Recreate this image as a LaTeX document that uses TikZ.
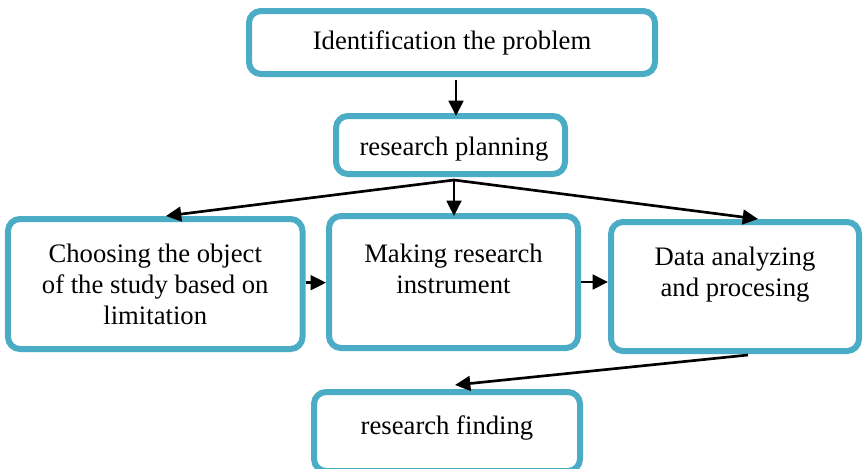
\documentclass[tikz,border=0pt]{standalone}
\usepackage{fontspec}
\setmainfont{Liberation Serif}
\usetikzlibrary{arrows.meta}
\definecolor{boxblue}{HTML}{4BACC6}
\begin{document}
\begin{tikzpicture}[x=0.75pt, y=-0.75pt, every node/.style={font=\fontsize{20}{23.25}\selectfont},
  box/.style={draw=boxblue,line width=4.5pt,rounded corners=9pt,fill=white,align=center,inner sep=0pt},
  flow/.style={-{Triangle[length=11.5pt,width=11pt]},line width=2pt,black}]
\useasboundingbox (0,0) rectangle (866,468);
\node[box,minimum width=304.5pt,minimum height=47.25pt] (ident) at (452,42.5) {Identification the problem};
\node[box,minimum width=171.75pt,minimum height=43.5pt] (plan) at (450.5,145) {};
\node (plantext) at ([xshift=2.6pt,yshift=-3pt]plan.center) {research planning};
\node[box,minimum width=220.9pt,minimum height=97.5pt] (choose) at (155.25,284) {Choosing the object\\of the study based on\\limitation};
\node[box,minimum width=186.75pt,minimum height=99pt] (make) at (453.5,282) {};
\node[align=center] (maketext) at ([yshift=9.5pt]make.center) {Making research\\instrument};
\node[box,minimum width=186pt,minimum height=96.75pt] (data) at (735,286.5) {};
\node[align=center] (datatext) at ([yshift=9pt]data.center) {Data analyzing\\and procesing};
\node[box,minimum width=199.5pt,minimum height=59.25pt] (finding) at (447,431.5) {};
\node (findingtext) at ([yshift=3pt]finding.center) {research finding};
\draw[flow] ([xshift=3pt,yshift=-2.25pt]ident.south) -- ([xshift=3pt,yshift=-2.25pt]ident.south |- plan.north);
\draw[flow] ([xshift=2.6pt,yshift=-2.25pt]plan.south) -- ([xshift=8pt]choose.north);
\draw[flow] ([xshift=2.6pt,yshift=-2.25pt]plan.south) -- ([xshift=2.6pt,yshift=-2.25pt]plan.south |- make.north);
\draw[flow] ([xshift=2.6pt,yshift=-2.25pt]plan.south) -- ([xshift=17.25pt]data.north);
\draw[flow] ([yshift=1pt]choose.east) -- ([yshift=1pt]choose.east -| make.west);
\draw[flow] (make.east) -- (make.east -| data.west);
\draw[flow] ([xshift=9.75pt,yshift=-0.75pt]data.south) -- ([xshift=6pt,yshift=3pt]finding.north);
\end{tikzpicture}
\end{document}
